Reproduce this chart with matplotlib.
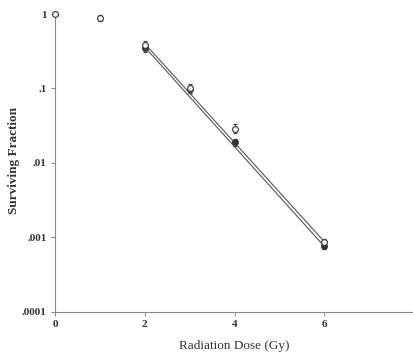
import matplotlib
matplotlib.use("Agg")
import matplotlib.pyplot as plt
import numpy as np

plt.rcParams['font.family'] = ['Liberation Serif', 'DejaVu Serif']

# survival data
dose_open = [0, 1, 2, 3, 4, 6]
surv_open = [1.0, 0.88, 0.38, 0.103, 0.029, 0.00088]
err_open = [0.03, 0.08, 0.05, 0.012, 0.004, 0.00008]

dose_filled = [2, 3, 4, 6]
surv_filled = [0.35, 0.098, 0.019, 0.00078]
err_filled = [0.04, 0.01, 0.002, 0.00008]

# fitted lines (endpoints)
fit_dose = [2, 6]
fit_open = [0.40, 0.00088]
fit_filled = [0.36, 0.00076]

yticks = [1e-4, 1e-3, 1e-2, 1e-1, 1]
ytick_labels = ['.0001', '.001', '.01', '.1', '1']
xticks = [0, 2, 4, 6]

fig = plt.figure(figsize=(4.14, 3.59), dpi=100)
ax = fig.add_axes([0.133, 0.131, 0.867, 0.830])

line_col = '#555555'
ax.plot(fit_dose, fit_open, color=line_col, lw=0.8)
ax.plot(fit_dose, fit_filled, color=line_col, lw=0.8)

eb1 = ax.errorbar(dose_open, surv_open, yerr=err_open, fmt='o', ms=4.2,
                  mfc='white', mec='#444444', mew=0.9, ecolor='#444444',
                  elinewidth=0.7, capsize=1.5, zorder=3)
eb2 = ax.errorbar(dose_filled, surv_filled, yerr=err_filled, fmt='o', ms=4,
                  mfc='#333333', mec='#333333', ecolor='#444444',
                  elinewidth=0.7, capsize=1.5, zorder=2)
for eb in (eb1, eb2):
    for art in eb.lines[:1] + eb.lines[1] + eb.lines[2]:
        art.set_clip_on(False)

ax.set_yscale('log')
ax.set_ylim(1e-4, 1)
ax.set_xlim(0, 8)
ax.set_yticks(yticks)
ax.set_yticklabels(ytick_labels)
ax.minorticks_off()
ax.set_xticks(xticks)

for s in ['top', 'right']:
    ax.spines[s].set_visible(False)
for s in ['left', 'bottom']:
    ax.spines[s].set_color('#888888')
    ax.spines[s].set_linewidth(0.8)

ax.tick_params(axis='both', length=3, width=0.7, color='#888888',
               labelsize=8, pad=3)
for lab in ax.get_xticklabels() + ax.get_yticklabels():
    lab.set_fontweight('bold')
    lab.set_color('#333333')

ax.set_ylabel('Surviving Fraction', fontsize=9.5, fontweight='bold',
              color='#333333')
ax.set_xlabel('Radiation Dose (Gy)', fontsize=9.5, color='#333333')
ax.yaxis.set_label_coords(-0.097, 0.51)
ax.xaxis.set_label_coords(0.5, -0.095)

fig.savefig('out.png', dpi=100)
